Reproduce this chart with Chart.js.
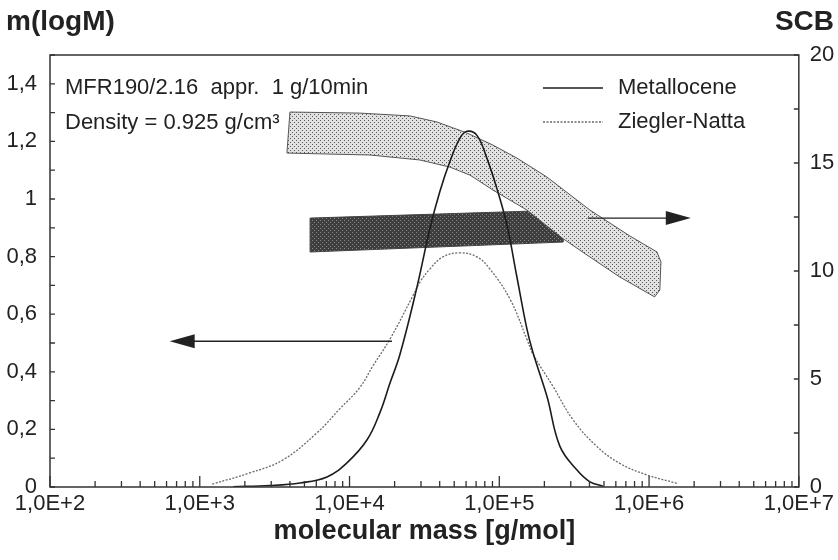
<!DOCTYPE html>
<html>
<head>
<meta charset="utf-8">
<script src="https://cdn.jsdelivr.net/npm/chart.js@4.4.1/dist/chart.umd.min.js"></script>
<style>
  html, body { margin: 0; padding: 0; background: #fff; }
</style>
</head>
<body>
<canvas id="mwd" width="838" height="560"></canvas>
<script>
// molecular mass distributions, m(logM) over M [g/mol]
var metalloceneM = [1.67e3, 2.94e3, 4.67e3, 7.07e3, 9.61e3, 1.31e4, 1.6e4, 1.86e4, 2.17e4, 2.82e4, 3.44e4, 4.01e4, 4.68e4, 5.46e4,
                    6.08e4, 7.09e4, 8.27e4, 9.64e4, 1.124e5, 1.31e5, 1.53e5, 1.68e5, 2.08e5, 2.54e5, 3.3e5, 4.03e5, 4.92e5];
var metalloceneW = [0.001, 0.005, 0.014, 0.035, 0.084, 0.164, 0.26, 0.36, 0.46, 0.694, 0.897, 1.026, 1.13, 1.211,
                    1.235, 1.221, 1.141, 1.036, 0.91, 0.73, 0.548, 0.466, 0.315, 0.141, 0.059, 0.018, 0.003];

var zieglerM = [1.21e3, 2.16e3, 3.59e3, 6.06e3, 8.63e3, 1.17e4, 1.43e4, 1.86e4, 2.65e4, 2.95e4, 3.44e4, 4.2e4, 5.46e4,
                7.09e4, 8.65e4, 1.18e5, 1.53e5, 1.68e5, 2.28e5, 3.1e5, 4.48e5, 6.38e5, 9.67e5, 1.53e6];
var zieglerW = [0.01, 0.049, 0.094, 0.188, 0.272, 0.345, 0.42, 0.513, 0.664, 0.711, 0.757, 0.799, 0.813,
                0.799, 0.757, 0.652, 0.513, 0.461, 0.35, 0.234, 0.141, 0.082, 0.042, 0.013];

// short chain branching bands (SCB, right axis), outlines as closed polygons
var zieglerBandM = [4.0e3, 1.17e4, 2.53e4, 3.83e4, 6.08e4, 9.06e4, 1.31e5, 2.08e5, 4.03e5, 7.45e5, 1.13e6, 1.2e6, 1.18e6,
                    1.09e6, 6.38e5, 3.85e5, 2.66e5, 1.53e5, 9.06e4, 6.37e4, 4.68e4, 2.95e4, 1.37e4, 3.82e3, 4.0e3];
var zieglerBandSCB = [17.36, 17.31, 17.18, 16.9, 16.39, 15.83, 15.23, 14.35, 12.82, 11.62, 10.88, 10.42, 9.12,
                      8.8, 9.72, 10.74, 11.5, 12.82, 13.75, 14.44, 14.81, 15.14, 15.37, 15.46, 17.36];
var metalloceneBandM = [5.45e3, 2.66e5, 2.66e5, 5.45e3, 5.45e3];
var metalloceneBandSCB = [12.45, 12.82, 11.34, 10.88, 12.45];

// arrows pointing to the axis each curve belongs to
var massArrowM = [1.92e4, 630];
var massArrowY = 0.506;
var scbArrowM = [3.9e5, 1.9e6];
var scbArrowY = 12.45;

var seriesNames = ['Metallocene', 'Ziegler-Natta'];
var noteLines = ['MFR190/2.16  appr.  1 g/10min', 'Density = 0.925 g/cm\u00b3'];

var FONT = '"Liberation Sans", Arial, sans-serif';
var INK = '#222';

function pts(xs, ys) {
    return xs.map(function (x, i) { return { x: x, y: ys[i] }; });
}

function dotPattern(bg, dot) {
    var c = document.createElement('canvas');
    c.width = 4; c.height = 4;
    var g = c.getContext('2d');
    g.fillStyle = bg; g.fillRect(0, 0, 4, 4);
    g.fillStyle = dot;
    g.fillRect(0, 0, 1, 1);
    g.fillRect(2, 2, 1, 1);
    return g.createPattern(c, 'repeat');
}

function arrow(ctx, x1, y1, x2, y2) {
    var dir = x2 > x1 ? 1 : -1;
    ctx.beginPath();
    ctx.moveTo(x1, y1);
    ctx.lineTo(x2 - dir * 20, y2);
    ctx.stroke();
    ctx.beginPath();
    ctx.moveTo(x2, y2);
    ctx.lineTo(x2 - dir * 25, y2 - 7);
    ctx.lineTo(x2 - dir * 25, y2 + 7);
    ctx.closePath();
    ctx.fill();
}

// frame, inward ticks, arrows, notes, legend and axis headings
var decorations = {
    id: 'decorations',
    afterDatasetsDraw: function (chart) {
        var ctx = chart.ctx;
        var a = chart.chartArea;
        var sx = chart.scales.x, sy = chart.scales.y, sy2 = chart.scales.y2;
        ctx.save();
        ctx.strokeStyle = '#333';
        ctx.fillStyle = INK;
        ctx.lineWidth = 1.5;
        ctx.strokeRect(a.left, a.top, a.right - a.left, a.bottom - a.top);

        ctx.lineWidth = 1.3;
        ctx.beginPath();
        sx.ticks.forEach(function (t) {
            var px = sx.getPixelForValue(t.value);
            var e = Math.log10(t.value);
            var len = Math.abs(e - Math.round(e)) < 1e-6 ? 11 : 6;
            ctx.moveTo(px, a.bottom);
            ctx.lineTo(px, a.bottom - len);
        });
        sy.ticks.forEach(function (t) {
            var py = sy.getPixelForValue(t.value);
            ctx.moveTo(a.left, py);
            ctx.lineTo(a.left + 5, py);
        });
        sy2.ticks.forEach(function (t) {
            var py = sy2.getPixelForValue(t.value);
            ctx.moveTo(a.right, py);
            ctx.lineTo(a.right - 5, py);
        });
        ctx.stroke();

        ctx.lineWidth = 1.4;
        ctx.strokeStyle = '#222';
        arrow(ctx, sx.getPixelForValue(massArrowM[0]), sy.getPixelForValue(massArrowY),
              sx.getPixelForValue(massArrowM[1]), sy.getPixelForValue(massArrowY));
        arrow(ctx, sx.getPixelForValue(scbArrowM[0]), sy2.getPixelForValue(scbArrowY),
              sx.getPixelForValue(scbArrowM[1]), sy2.getPixelForValue(scbArrowY));

        ctx.font = '22px ' + FONT;
        ctx.textBaseline = 'middle';
        ctx.textAlign = 'left';
        ctx.fillText(noteLines[0], 65, 88);
        ctx.fillText(noteLines[1], 65, 123);

        // legend
        [0, 1].forEach(function (i) {
            var ds = chart.data.datasets[i];
            var y = 88 + i * 34;
            ctx.save();
            ctx.strokeStyle = ds.borderColor;
            ctx.lineWidth = ds.borderWidth;
            ctx.setLineDash(ds.borderDash || []);
            ctx.beginPath();
            ctx.moveTo(543, y);
            ctx.lineTo(603, y);
            ctx.stroke();
            ctx.restore();
            ctx.fillText(seriesNames[i], 618, y);
        });

        ctx.font = 'bold 28px ' + FONT;
        ctx.fillText('m(logM)', 6, 22);
        ctx.textAlign = 'right';
        ctx.fillText('SCB', 834, 22);
        ctx.restore();
    }
};

var chartEl = document.getElementById('mwd');

new Chart(chartEl, {
    type: 'line',
    data: {
        datasets: [
            {
                label: seriesNames[0],
                data: pts(metalloceneM, metalloceneW),
                yAxisID: 'y',
                borderColor: '#1c1c1c',
                borderWidth: 1.6,
                tension: 0.4,
                fill: false
            },
            {
                label: seriesNames[1],
                data: pts(zieglerM, zieglerW),
                yAxisID: 'y',
                borderColor: '#6a6a6a',
                borderWidth: 1.3,
                borderDash: [2, 1.5],
                tension: 0.4,
                fill: false
            },
            {
                label: 'SCB Ziegler-Natta',
                data: pts(zieglerBandM, zieglerBandSCB),
                yAxisID: 'y2',
                borderColor: '#555',
                borderWidth: 1,
                backgroundColor: dotPattern('#e2e2e2', '#555'),
                tension: 0,
                fill: 'shape'
            },
            {
                label: 'SCB Metallocene',
                data: pts(metalloceneBandM, metalloceneBandSCB),
                yAxisID: 'y2',
                borderColor: '#444',
                borderWidth: 1,
                backgroundColor: dotPattern('#3e3e3e', '#8a8a8a'),
                tension: 0,
                fill: 'shape'
            }
        ]
    },
    options: {
        responsive: false,
        animation: false,
        events: [],
        layout: { padding: { top: 55, left: 0, right: 0, bottom: 0 } },
        elements: { point: { radius: 0 } },
        plugins: {
            legend: { display: false },
            tooltip: { enabled: false }
        },
        scales: {
            x: {
                type: 'logarithmic',
                min: 1e2,
                max: 1e7,
                afterBuildTicks: function (axis) {
                    var t = [];
                    for (var e = 2; e < 7; e++) {
                        for (var s = 1; s < 10; s++) t.push({ value: s * Math.pow(10, e) });
                    }
                    t.push({ value: 1e7 });
                    axis.ticks = t;
                },
                afterFit: function (axis) { axis.height = 73; },
                grid: { display: false, drawTicks: false },
                border: { display: false },
                ticks: {
                    autoSkip: false,
                    maxRotation: 0,
                    padding: 4,
                    color: INK,
                    font: { family: FONT, size: 22 },
                    callback: function (v) {
                        var e = Math.log10(v);
                        return Math.abs(e - Math.round(e)) < 1e-6 ? '1,0E+' + Math.round(e) : '';
                    }
                },
                title: {
                    display: true,
                    text: 'molecular mass [g/mol]',
                    color: INK,
                    font: { family: FONT, size: 27, weight: 'bold' },
                    padding: { top: 0, bottom: 12 }
                }
            },
            y: {
                position: 'left',
                min: 0,
                max: 1.5,
                afterFit: function (axis) { axis.width = 50; },
                grid: { display: false, drawTicks: false },
                border: { display: false },
                ticks: {
                    stepSize: 0.1,
                    autoSkip: false,
                    padding: 13,
                    color: INK,
                    font: { family: FONT, size: 22 },
                    callback: function (v) {
                        var k = Math.round(v * 10);
                        if (k % 2 || k > 14) return '';
                        return String(k / 10).replace('.', ',');
                    }
                }
            },
            y2: {
                position: 'right',
                min: 0,
                max: 20,
                afterFit: function (axis) { axis.width = 39; },
                grid: { display: false, drawTicks: false },
                border: { display: false },
                ticks: {
                    stepSize: 2.5,
                    autoSkip: false,
                    padding: 11,
                    color: INK,
                    font: { family: FONT, size: 22 },
                    callback: function (v) {
                        return v % 5 === 0 ? String(v) : '';
                    }
                }
            }
        }
    },
    plugins: [decorations]
});
</script>
</body>
</html>
